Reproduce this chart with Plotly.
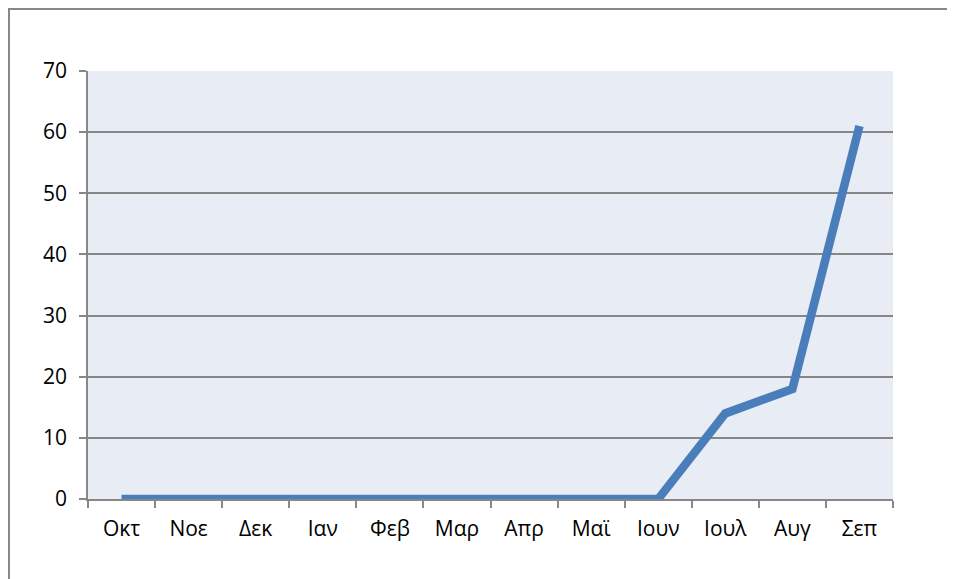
import plotly.graph_objects as go

months = ["Οκτ", "Νοε", "Δεκ", "Ιαν", "Φεβ", "Μαρ", "Απρ", "Μαϊ", "Ιουν", "Ιουλ", "Αυγ", "Σεπ"]
values = [0, 0, 0, 0, 0, 0, 0, 0, 0, 14, 18, 61]
y_ticks = [0, 10, 20, 30, 40, 50, 60, 70]

fig = go.Figure()
fig.add_trace(go.Scatter(
    x=months, y=values, mode="lines",
    line=dict(color="#4A7EBB", width=8.5),
    hoverinfo="skip",
))

axis_col = "#878787"
fig.update_layout(
    width=955, height=579,
    margin=dict(l=80, r=70, t=63, b=88),
    paper_bgcolor="white",
    plot_bgcolor="#E8ECF4",
    showlegend=False,
    font=dict(family="'Open Sans', 'Noto Sans', sans-serif", size=21, color="#000000"),
    xaxis=dict(
        type="category",
        tickson="boundaries",
        ticks="outside", ticklen=7, tickcolor=axis_col, tickwidth=1.5,
        showline=True, linecolor=axis_col, linewidth=1.5,
        showgrid=False,
        range=[-0.5, 11.5],
        ticklabelstandoff=10,
    ),
    yaxis=dict(
        range=[0, 70],
        tickvals=y_ticks,
        ticks="outside", ticklen=7, tickcolor=axis_col, tickwidth=1.5,
        showline=True, linecolor=axis_col, linewidth=1.5,
        showgrid=True, gridcolor=axis_col, gridwidth=1.5,
        zeroline=False,
        ticklabelstandoff=8,
    ),
    shapes=[dict(
        type="rect", xref="paper", yref="paper",
        x0=-79/805, x1=1.2, y0=-0.3, y1=(499 - 9) / 428,
        line=dict(color="#878787", width=2), fillcolor="rgba(0,0,0,0)",
        layer="below",
    )],
)

fig.write_html("out.html")
